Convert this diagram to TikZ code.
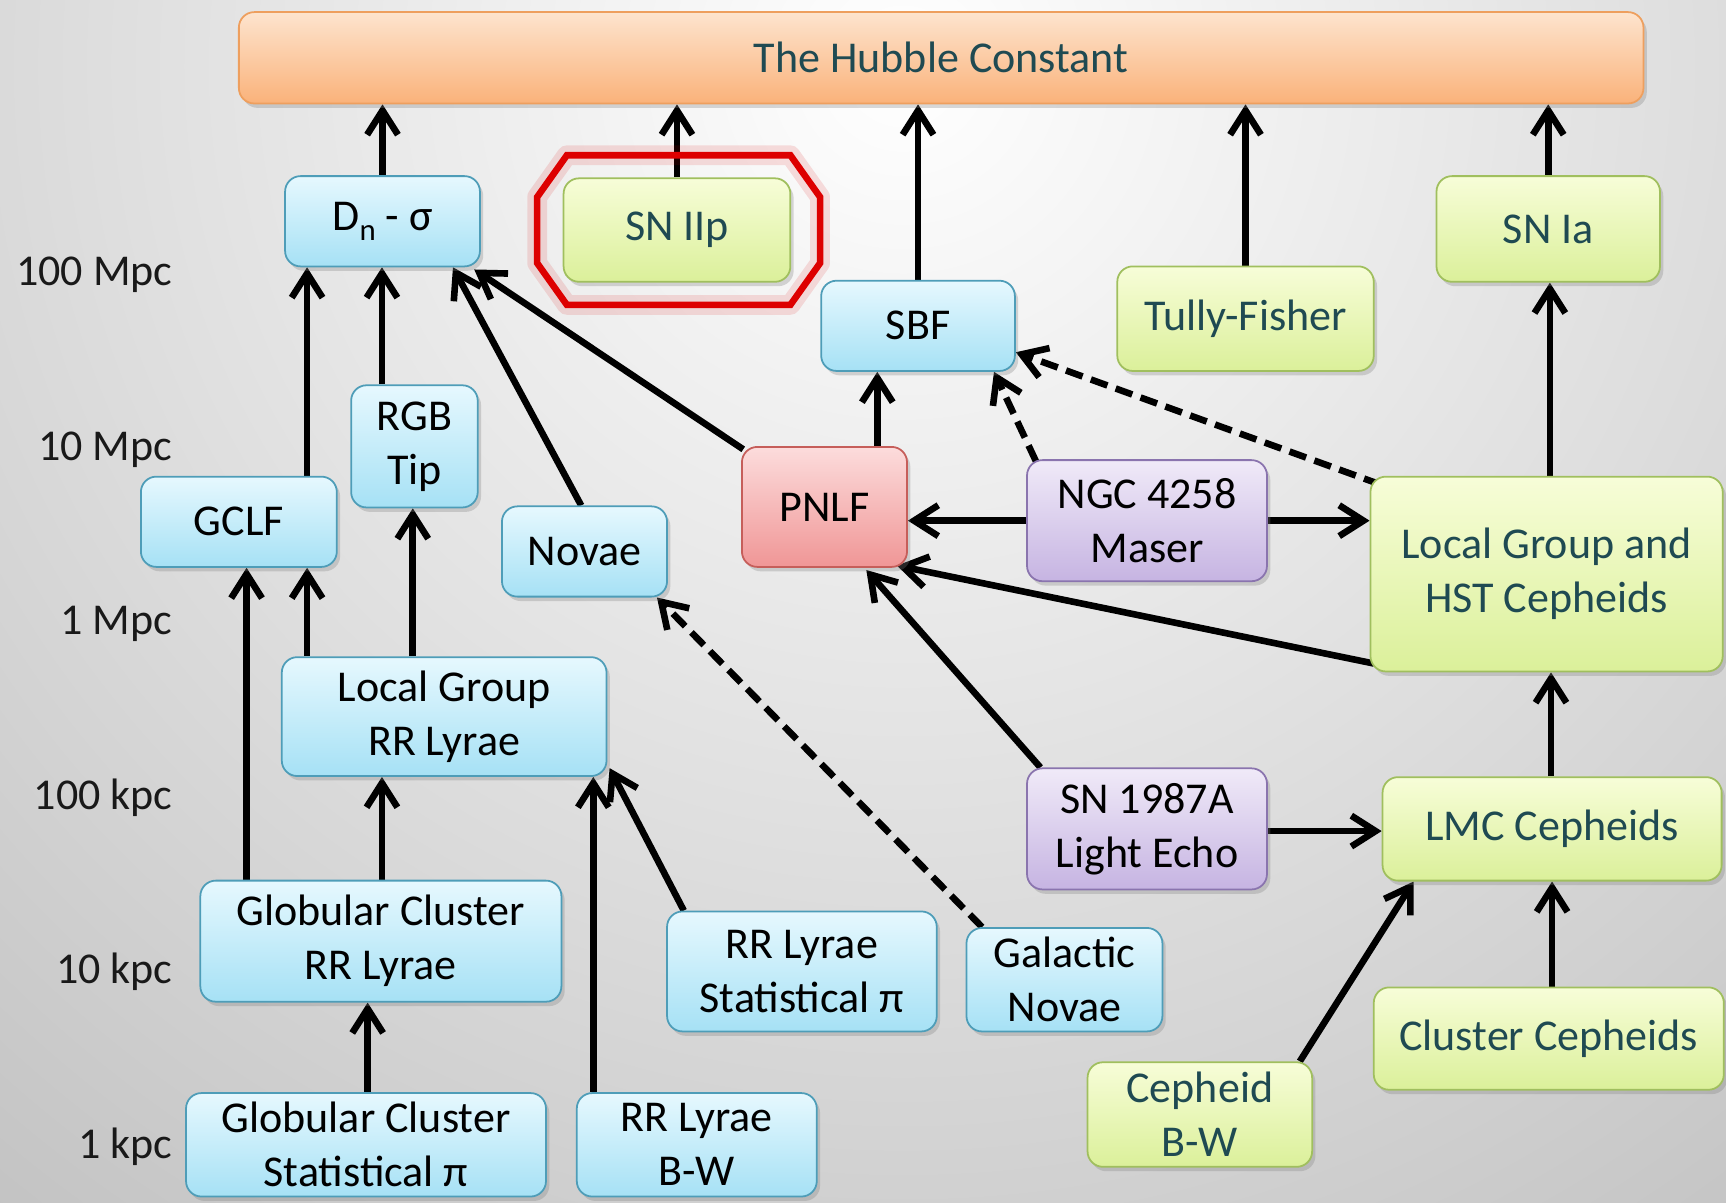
\documentclass[tikz,border=0pt]{standalone}
\usepackage{fontspec}
\setmainfont{Carlito}
\usetikzlibrary{arrows.meta,shadows}
\pgfdeclarelayer{bg}
\pgfdeclarelayer{edges}
\pgfsetlayers{bg,edges,main}
\definecolor{bluetop}{HTML}{E6F8FE}
\definecolor{bluebot}{HTML}{A6E1F5}
\definecolor{blueline}{HTML}{4E9DB8}
\definecolor{greentop}{HTML}{F7FDD8}
\definecolor{greenbot}{HTML}{DBF09A}
\definecolor{greenline}{HTML}{A0BF5E}
\definecolor{purptop}{HTML}{F0EAF8}
\definecolor{purpbot}{HTML}{C6B4E2}
\definecolor{purpline}{HTML}{8A74AE}
\definecolor{pinktop}{HTML}{FCDCDC}
\definecolor{pinkbot}{HTML}{F09696}
\definecolor{pinkline}{HTML}{C65E5A}
\definecolor{orgtop}{HTML}{FDE4CE}
\definecolor{orgbot}{HTML}{FAB27A}
\definecolor{orgline}{HTML}{EE9F5E}
\definecolor{tealtext}{HTML}{1F4A52}
\definecolor{bgout}{HTML}{858585}
\definecolor{octred}{HTML}{DD0000}
\tikzset{
  box/.style={rounded corners=7pt, draw, line width=0.8pt, align=center, inner sep=0pt,
    font=\fontsize{20}{24.5}\selectfont,
    drop shadow={shadow xshift=1.5pt,shadow yshift=-2pt,opacity=0.3}},
  bluebox/.style={box, top color=bluetop, bottom color=bluebot, draw=blueline, text=black},
  greenbox/.style={box, top color=greentop, bottom color=greenbot, draw=greenline, text=tealtext},
  purpbox/.style={box, top color=purptop, bottom color=purpbot, draw=purpline, text=black},
  pinkbox/.style={box, top color=pinktop, bottom color=pinkbot, draw=pinkline, text=black},
  orgbox/.style={box, top color=orgtop, bottom color=orgbot, draw=orgline, text=tealtext},
  sz/.style 2 args={minimum width=#1*0.5pt, minimum height=#2*0.5pt},
  scalelabel/.style={anchor=east, inner sep=0pt, font=\fontsize{20}{24.5}\selectfont, text=black!90},
  arr/.style={line width=3pt, -{Straight Barb[length=11pt,width=14pt]}},
  darr/.style={arr, dash pattern=on 8pt off 4pt},
}
\begin{document}
\begin{tikzpicture}[x=0.5pt,y=-0.5pt]
\useasboundingbox (0,0) rectangle (1568,1092);
\begin{pgfonlayer}{bg}
  \fill[bgout] (0,0) rectangle (1568,1092);
  \begin{scope}
    \clip (0,0) rectangle (1568,1092);
    \shade[inner color=white, outer color=bgout] (820,60) circle (1350pt);
  \end{scope}
\end{pgfonlayer}

% scale labels
\node[scalelabel] (l1) at (157,250) {100 Mpc};
\node[scalelabel] (l2) at (157,409) {10 Mpc};
\node[scalelabel] (l3) at (157,567) {1 Mpc};
\node[scalelabel] (l4) at (157,725) {100 kpc};
\node[scalelabel] (l5) at (157,883) {10 kpc};
\node[scalelabel] (l6) at (157,1042) {1 kpc};

% red octagon highlight
\draw[octred, line width=9pt, opacity=0.12, line join=round]
  (515,141) -- (718,141) -- (745,179) -- (745,239) -- (718,277) -- (515,277) -- (488,239) -- (488,179) -- cycle;
\draw[octred, line width=3pt, line join=miter]
  (515,141) -- (718,141) -- (745,179) -- (745,239) -- (718,277) -- (515,277) -- (488,239) -- (488,179) -- cycle;

% nodes
\node[orgbox, sz={1276}{83}] (hub) at (855,52.5) {The Hubble Constant};
\node[bluebox, sz={177}{82}] (dn) at (347.5,201) {D\raisebox{-0.45ex}{\fontsize{14}{14}\selectfont n} - σ};
\node[greenbox, sz={206}{94}] (sniip) at (615,209) {SN IIp};
\node[bluebox, sz={176}{82}] (sbf) at (834,296) {SBF};
\node[greenbox, sz={233}{95}] (tf) at (1131.5,289.5) {Tully-Fisher};
\node[greenbox, sz={203}{96}] (snia) at (1406.5,208) {SN Ia};
\node[bluebox, sz={115}{111}] (rgb) at (376.5,405.5) {RGB\\Tip};
\node[bluebox, sz={178}{82}] (gclf) at (217,474) {GCLF};
\node[bluebox, sz={150}{82}] (novae) at (531,501) {Novae};
\node[pinkbox, sz={150}{109}] (pnlf) at (749,460.5) {PNLF};
\node[purpbox, sz={218}{110}] (ngc) at (1042,473) {NGC 4258\\Maser};
\node[greenbox, sz={320}{177}] (lghst) at (1405,521.5) {Local Group and\\HST Cepheids};
\node[bluebox, sz={295}{108}] (lgrr) at (403.5,651) {Local Group\\RR Lyrae};
\node[purpbox, sz={218}{110}] (sn87) at (1042,753) {SN 1987A\\Light Echo};
\node[greenbox, sz={308}{94}] (lmc) at (1410,753) {LMC Cepheids};
\node[bluebox, sz={328}{110}] (gcrr) at (346,855) {Globular Cluster\\RR Lyrae};
\node[bluebox, sz={245}{109}] (rrstat) at (728.5,882.5) {RR Lyrae\\Statistical π};
\node[bluebox, sz={178}{94}] (galnov) at (967,890) {Galactic\\Novae};
\node[greenbox, sz={318}{93}] (clceph) at (1407,943.5) {Cluster Cepheids};
\node[greenbox, sz={204}{95}] (cephbw) at (1090,1012.5) {Cepheid\\B-W};
\node[bluebox, sz={327}{94}] (gcstat) at (332.5,1040) {Globular Cluster\\Statistical π};
\node[bluebox, sz={218}{94}] (rrbw) at (633,1040) {RR Lyrae\\B-W};

% connectors
\begin{pgfonlayer}{edges}
  % to Hubble constant
  \draw[arr] (dn.north) -- (dn.north |- hub.south);
  \draw[arr] (sniip.north) -- (sniip.north |- hub.south);
  \draw[arr] (sbf.north) -- (sbf.north |- hub.south);
  \draw[arr] (tf.north) -- (tf.north |- hub.south);
  \draw[arr] (snia.north) -- (snia.north |- hub.south);
  % into Dn-sigma
  \draw[arr] ([xshift=31pt]gclf.north) -- ([xshift=31pt]gclf.north |- dn.south);
  \draw[arr] ([xshift=-14.75pt]rgb.north) -- ([xshift=-14.75pt]rgb.north |- dn.south);
  \draw[arr] ([xshift=-1.5pt]novae.north) -- ([xshift=32pt]dn.south);
  \draw[arr] ([xshift=1pt,yshift=-1.5pt]pnlf.north west) -- ([xshift=-3pt,yshift=-1pt]dn.south east);
  % into SBF
  \draw[arr] ([xshift=24pt]pnlf.north) -- ([xshift=24pt]pnlf.north |- sbf.south);
  \draw[darr] ([xshift=4.5pt,yshift=-1pt]ngc.north west) -- ([xshift=34.5pt]sbf.south);
  \draw[darr] ([xshift=5pt,yshift=-4pt]lghst.north west) -- ([yshift=-12pt]sbf.east);
  % around PNLF and maser
  \draw[arr] (ngc.west) -- (ngc.west -| pnlf.east);
  \draw[arr] (ngc.east) -- (ngc.east -| lghst.west);
  \draw[arr] ([xshift=2pt,yshift=4pt]lghst.south west) -- ([xshift=-5pt,yshift=1pt]pnlf.south east);
  \draw[arr] ([xshift=6.5pt]sn87.north west) -- ([xshift=19pt,yshift=-1pt]pnlf.south);
  % Cepheid chain
  \draw[arr] ([xshift=1.5pt]lghst.north) -- ([xshift=1.5pt]lghst.north |- snia.south);
  \draw[arr] ([xshift=-0.5pt]lmc.north) -- ([xshift=-0.5pt]lmc.north |- lghst.south);
  \draw[arr] ([yshift=-1pt]sn87.east) -- ([yshift=-1pt]sn87.east -| lmc.west);
  \draw[arr] ([xshift=-6pt]cephbw.north east) -- ([xshift=14.5pt]lmc.south west);
  \draw[arr] ([xshift=1.5pt]clceph.north) -- ([xshift=1.5pt]clceph.north |- lmc.south);
  % RR Lyrae / globular cluster chain
  \draw[arr] ([xshift=-62.25pt]lgrr.north) -- ([xshift=-62.25pt]lgrr.north |- gclf.south);
  \draw[arr] ([xshift=-14.25pt]lgrr.north) -- ([xshift=-14.25pt]lgrr.north |- rgb.south);
  \draw[arr] ([xshift=-61pt]gcrr.north) -- ([xshift=-61pt]gcrr.north |- gclf.south);
  \draw[arr] ([xshift=0.5pt]gcrr.north) -- ([xshift=0.5pt]gcrr.north |- lgrr.south);
  \draw[arr] ([xshift=0.75pt]gcstat.north) -- ([xshift=0.75pt]gcstat.north |- gcrr.south);
  \draw[arr] ([xshift=-47pt]rrbw.north) -- ([xshift=-47pt]rrbw.north |- lgrr.south);
  \draw[arr] ([xshift=8pt]rrstat.north west) -- ([xshift=1pt,yshift=4pt]lgrr.south east);
  \draw[darr] ([xshift=7.5pt]galnov.north west) -- ([xshift=-5pt]novae.south east);
\end{pgfonlayer}
\end{tikzpicture}
\end{document}
